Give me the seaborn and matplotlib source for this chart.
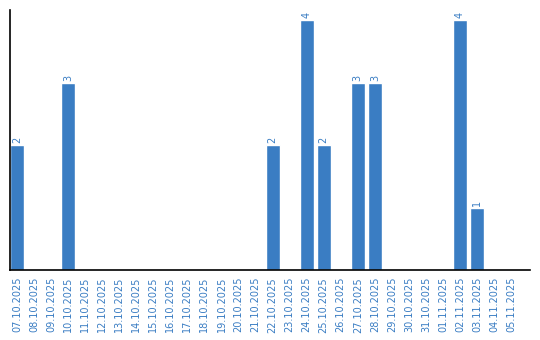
import matplotlib
matplotlib.use("Agg")
import matplotlib.pyplot as plt
import seaborn as sns
import pandas as pd

dates = ["07.10.2025","08.10.2025","09.10.2025","10.10.2025","11.10.2025","12.10.2025",
         "13.10.2025","14.10.2025","15.10.2025","16.10.2025","17.10.2025","18.10.2025",
         "19.10.2025","20.10.2025","21.10.2025","22.10.2025","23.10.2025","24.10.2025",
         "25.10.2025","26.10.2025","27.10.2025","28.10.2025","29.10.2025","30.10.2025",
         "31.10.2025","01.11.2025","02.11.2025","03.11.2025","04.11.2025","05.11.2025"]
counts = [2,0,0,3,0,0,0,0,0,0,0,0,0,0,0,2,0,4,2,0,3,3,0,0,0,0,4,1,0,0]

color = "#3a7dc3"
sns.set_style("white")
fig = plt.figure(figsize=(5.4, 3.4), dpi=100)
ax = fig.add_axes([10/540, 70/340, 520/540, 260/340])
df = pd.DataFrame({"date": dates, "count": counts})
sns.barplot(data=df, x="date", y="count", color=color, width=0.82, saturation=1, ax=ax)
ax.set_ylim(0, 4.16)
ax.set_xlim(-0.41, -0.41 + 520/17.04)
ax.set_xlabel("")
ax.set_ylabel("")
ax.set_yticks([])
ax.tick_params(axis="x", length=0, pad=5, labelsize=7, labelcolor=color, rotation=90)
for s in ["top", "right"]:
    ax.spines[s].set_visible(False)
for s in ["left", "bottom"]:
    ax.spines[s].set_color("black")
    ax.spines[s].set_linewidth(1.2)
for i, v in enumerate(counts):
    if v > 0:
        ax.text(i, v + 0.03, str(v), rotation=90, ha="center", va="bottom",
                fontsize=7, color=color)
fig.savefig("out.png", dpi=100)
